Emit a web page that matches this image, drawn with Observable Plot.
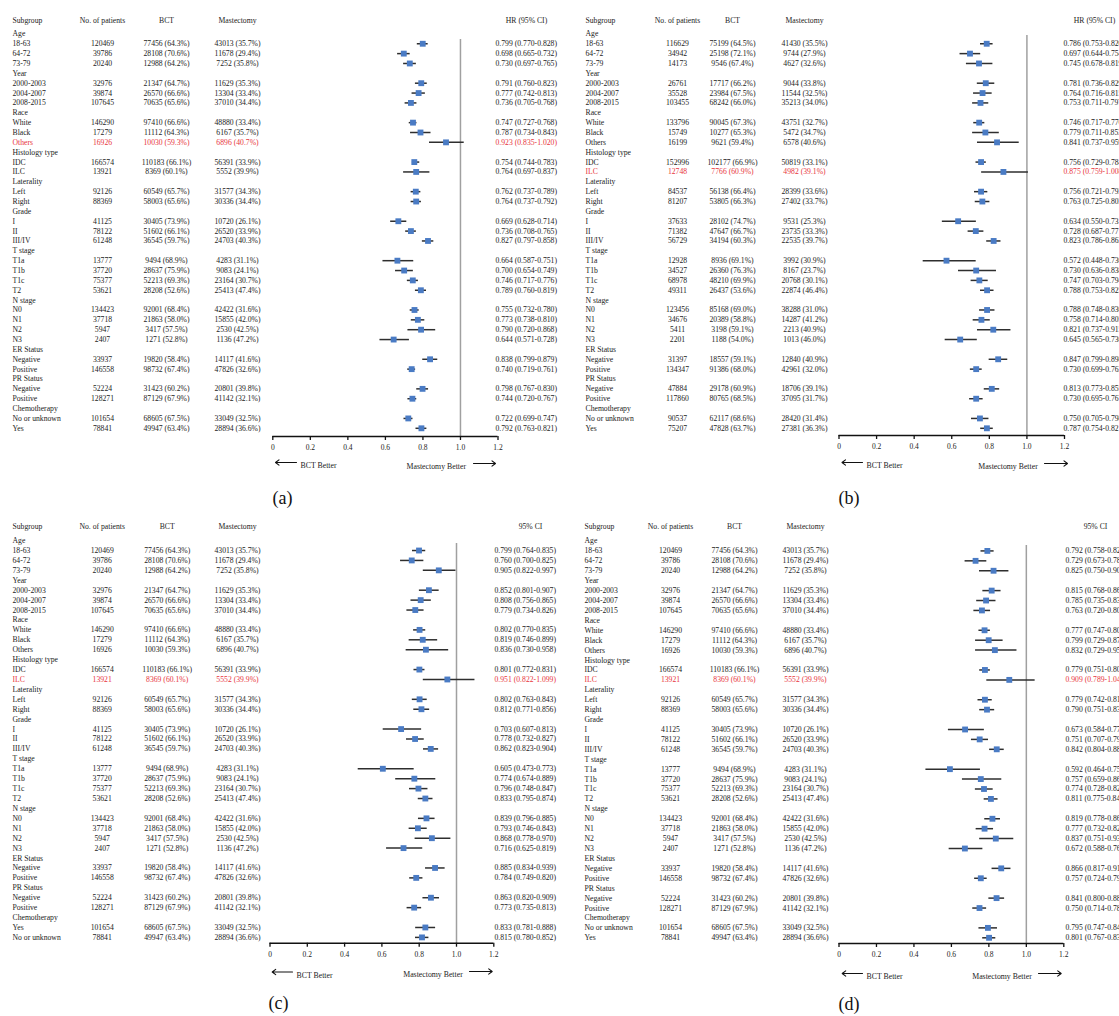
<!DOCTYPE html>
<html><head><meta charset="utf-8">
<script src="https://cdn.jsdelivr.net/npm/d3@7"></script>
<script src="https://cdn.jsdelivr.net/npm/@observablehq/plot@0.6"></script>
<style>
html,body{margin:0;padding:0;background:#fff;overflow:hidden;}
#fig{position:relative;width:1119px;height:1016px;background:#fff;overflow:hidden;}
#fig > svg{position:absolute;}
</style></head><body><div id="fig"></div>
<script>
// ---------- data ----------
const groupNames = ["Age","Year","Race","Histology type","Laterality","Grade","T stage","N stage","ER Status","PR Status","Chemotherapy"];
const groupSizes = [3,3,3,2,2,3,4,4,2,2,2];
const subgroups = ["18-63","64-72","73-79","2000-2003","2004-2007","2008-2015","White","Black","Others","IDC","ILC","Left","Right","I","II","III/IV","T1a","T1b","T1c","T2","N0","N1","N2","N3","Negative","Positive","Negative","Positive","No or unknown","Yes"];
const subgroupsC = ["18-63","64-72","73-79","2000-2003","2004-2007","2008-2015","White","Black","Others","IDC","ILC","Left","Right","I","II","III/IV","T1a","T1b","T1c","T2","N0","N1","N2","N3","Negative","Positive","Negative","Positive","Yes","No or unknown"];

// cohort used in panels (a), (c), (d)
const patients1 = [120469,39786,20240,32976,39874,107645,146290,17279,16926,166574,13921,92126,88369,41125,78122,61248,13777,37720,75377,53621,134423,37718,5947,2407,33937,146558,52224,128271,101654,78841];
const bctN1 = [77456,28108,12988,21347,26570,70635,97410,11112,10030,110183,8369,60549,58003,30405,51602,36545,9494,28637,52213,28208,92001,21863,3417,1271,19820,98732,31423,87129,68605,49947];
const bctPct1 = [64.3,70.6,64.2,64.7,66.6,65.6,66.6,64.3,59.3,66.1,60.1,65.7,65.6,73.9,66.1,59.7,68.9,75.9,69.3,52.6,68.4,58.0,57.5,52.8,58.4,67.4,60.2,67.9,67.5,63.4];
const mastN1 = [43013,11678,7252,11629,13304,37010,48880,6167,6896,56391,5552,31577,30336,10720,26520,24703,4283,9083,23164,25413,42422,15855,2530,1136,14117,47826,20801,41142,33049,28894];
const mastPct1 = [35.7,29.4,35.8,35.3,33.4,34.4,33.4,35.7,40.7,33.9,39.9,34.3,34.4,26.1,33.9,40.3,31.1,24.1,30.7,47.4,31.6,42.0,42.5,47.2,41.6,32.6,39.8,32.1,32.5,36.6];

// cohort used in panel (b)
const patients2 = [116629,34942,14173,26761,35528,103455,133796,15749,16199,152996,12748,84537,81207,37633,71382,56729,12928,34527,68978,49311,123456,34676,5411,2201,31397,134347,47884,117860,90537,75207];
const bctN2 = [75199,25198,9546,17717,23984,68242,90045,10277,9621,102177,7766,56138,53805,28102,47647,34194,8936,26360,48210,26437,85168,20389,3198,1188,18557,91386,29178,80765,62117,47828];
const bctPct2 = [64.5,72.1,67.4,66.2,67.5,66.0,67.3,65.3,59.4,66.9,60.9,66.4,66.3,74.7,66.7,60.3,69.1,76.3,69.9,53.6,69.0,58.8,59.1,54.0,59.1,68.0,60.9,68.5,68.6,63.7];
const mastN2 = [41430,9744,4627,9044,11544,35213,43751,5472,6578,50819,4982,28399,27402,9531,23735,22535,3992,8167,20768,22874,38288,14287,2213,1013,12840,42961,18706,37095,28420,27381];
const mastPct2 = [35.5,27.9,32.6,33.8,32.5,34.0,32.7,34.7,40.6,33.1,39.1,33.6,33.7,25.3,33.3,39.7,30.9,23.7,30.1,46.4,31.0,41.2,40.9,46.0,40.9,32.0,39.1,31.7,31.4,36.3];

// hazard ratios and 95% CI
const hrA = [0.799,0.698,0.730,0.791,0.777,0.736,0.747,0.787,0.923,0.754,0.764,0.762,0.764,0.669,0.736,0.827,0.664,0.700,0.746,0.789,0.755,0.773,0.790,0.644,0.838,0.740,0.798,0.744,0.722,0.792];
const loA = [0.770,0.665,0.697,0.760,0.742,0.705,0.727,0.734,0.835,0.744,0.697,0.737,0.737,0.628,0.708,0.797,0.587,0.654,0.717,0.760,0.732,0.738,0.720,0.571,0.799,0.719,0.767,0.720,0.699,0.763];
const hiA = [0.828,0.732,0.765,0.823,0.813,0.768,0.768,0.843,1.020,0.783,0.837,0.789,0.792,0.714,0.765,0.858,0.751,0.749,0.776,0.819,0.780,0.810,0.868,0.728,0.879,0.761,0.830,0.767,0.747,0.821];

const hrB = [0.786,0.697,0.745,0.781,0.764,0.753,0.746,0.779,0.841,0.756,0.875,0.756,0.763,0.634,0.728,0.823,0.572,0.730,0.747,0.788,0.788,0.758,0.821,0.645,0.847,0.730,0.813,0.730,0.750,0.787];
const loB = [0.753,0.644,0.678,0.736,0.716,0.711,0.717,0.711,0.737,0.729,0.759,0.721,0.725,0.550,0.687,0.786,0.448,0.636,0.703,0.753,0.748,0.714,0.737,0.565,0.799,0.699,0.773,0.695,0.705,0.754];
const hiB = [0.820,0.754,0.819,0.829,0.815,0.797,0.776,0.853,0.959,0.784,1.008,0.792,0.803,0.731,0.771,0.862,0.730,0.838,0.794,0.825,0.830,0.805,0.915,0.736,0.898,0.762,0.855,0.767,0.798,0.821];

const hrC = [0.799,0.760,0.905,0.852,0.808,0.779,0.802,0.819,0.836,0.801,0.951,0.802,0.812,0.703,0.778,0.862,0.605,0.774,0.796,0.833,0.839,0.793,0.868,0.716,0.885,0.784,0.863,0.773,0.833,0.815];
const loC = [0.764,0.700,0.822,0.801,0.756,0.734,0.770,0.746,0.730,0.772,0.822,0.763,0.771,0.607,0.732,0.823,0.473,0.674,0.748,0.795,0.796,0.746,0.778,0.625,0.834,0.749,0.820,0.735,0.781,0.780];
const hiC = [0.835,0.825,0.997,0.907,0.865,0.826,0.835,0.899,0.958,0.831,1.099,0.843,0.856,0.813,0.827,0.904,0.773,0.889,0.847,0.874,0.885,0.843,0.970,0.819,0.939,0.820,0.909,0.813,0.888,0.852];

const hrD = [0.792,0.729,0.825,0.815,0.785,0.763,0.777,0.799,0.832,0.779,0.909,0.779,0.790,0.673,0.751,0.842,0.592,0.757,0.774,0.811,0.819,0.777,0.837,0.672,0.866,0.757,0.841,0.750,0.795,0.801];
const loD = [0.758,0.673,0.750,0.768,0.735,0.720,0.747,0.729,0.729,0.751,0.789,0.742,0.751,0.584,0.707,0.804,0.464,0.659,0.728,0.775,0.778,0.732,0.751,0.588,0.817,0.724,0.800,0.714,0.747,0.767];
const hiD = [0.828,0.789,0.907,0.865,0.838,0.809,0.808,0.876,0.950,0.808,1.047,0.818,0.831,0.776,0.798,0.882,0.755,0.869,0.823,0.849,0.862,0.825,0.933,0.768,0.918,0.791,0.884,0.788,0.846,0.837];

const xTicks = [0,0.2,0.4,0.6,0.8,1.0,1.2];
const colHeaders = ["Subgroup","No. of patients","BCT","Mastectomy"];

// ---------- style ----------
const FONT = "'Liberation Serif','DejaVu Serif',serif";
const INK = "#222";
const RED = "#e8343c";
const BLUE = "#4a7bc4";

function buildRows(labels, patients, bctN, bctPct, mastN, mastPct, hr, lo, hi, redGroup, redLabel) {
  const rows = []; let i = 0, k = 0;
  groupNames.forEach((g, gi) => {
    rows.push({i: i++, label: g, header: true, red: false});
    for (let s = 0; s < groupSizes[gi]; s++, k++) {
      rows.push({
        i: i++, label: labels[k], header: false,
        n: String(patients[k]),
        bct: `${bctN[k]} (${bctPct[k].toFixed(1)}%)`,
        mast: `${mastN[k]} (${mastPct[k].toFixed(1)}%)`,
        hr: hr[k], lo: lo[k], hi: hi[k],
        hrText: `${hr[k].toFixed(3)} (${lo[k].toFixed(3)}-${hi[k].toFixed(3)})`,
        red: g === redGroup && labels[k] === redLabel
      });
    }
  });
  return rows;
}

function panel(cfg, rows) {
  const yIdx = py => (py - cfg.rowTop) / cfg.step;
  const xVal = px => (px - cfg.xr[0]) * 1.2 / (cfg.xr[1] - cfg.xr[0]);
  const sub = rows.filter(d => !d.header);
  const fill = d => d.red ? RED : INK;
  const T = {fontSize: 7.7, frameAnchor: "left", y: "i", fill};
  const head = (txt, x, anchor) => Plot.text([txt], {text: d => d, frameAnchor: "top-left", dx: x, dy: cfg.headY, textAnchor: anchor, fontSize: 7.7, fill: INK});
  const c = cfg.cols;
  const svg = Plot.plot({
    width: cfg.w, height: cfg.h,
    marginLeft: 0, marginRight: 0, marginTop: 0, marginBottom: cfg.h - cfg.axisY,
    x: {domain: [0, 1.2], range: cfg.xr},
    y: {domain: [0, 40], range: [cfg.rowTop, cfg.rowTop + 40 * cfg.step], axis: null},
    style: {fontFamily: FONT, background: "transparent", color: INK},
    marks: [
      head(colHeaders[0], c.label, "start"),
      head(colHeaders[1], c.n, "middle"),
      head(colHeaders[2], c.bct, "middle"),
      head(colHeaders[3], c.mast, "middle"),
      head(cfg.hrHeader, c.hrHead, "middle"),
      Plot.text(rows, {...T, dx: c.label, text: "label", textAnchor: "start"}),
      Plot.text(sub, {...T, dx: c.n, text: "n", textAnchor: "middle"}),
      Plot.text(sub, {...T, dx: c.bct, text: "bct", textAnchor: "middle"}),
      Plot.text(sub, {...T, dx: c.mast, text: "mast", textAnchor: "middle"}),
      Plot.text(sub, {...T, dx: c.hr, text: "hrText", textAnchor: "start"}),
      Plot.ruleX([1], {y1: yIdx(cfg.refTop), y2: yIdx(cfg.axisY), stroke: "#a0a0a0", strokeWidth: 1.5}),
      Plot.ruleY(sub, {y: "i", x1: "lo", x2: "hi", stroke: "#2e2e2e", strokeWidth: 1.5}),
      Plot.dot(sub, {x: "hr", y: "i", symbol: "square", r: 3.3, fill: BLUE}),
      Plot.ruleY([yIdx(cfg.axisY)], {x1: 0, x2: 1.2, stroke: "#111", strokeWidth: 1.5}),
      Plot.axisX({ticks: xTicks, tickFormat: d => d === 0 ? "0" : d.toFixed(1), tickSize: 4, tickPadding: 4.5,
                  fontSize: 7.5, label: null, stroke: "#111", strokeWidth: 1.3, fill: INK}),
      Plot.arrow([0], {x1: xVal(cfg.bctArrow[1]), x2: xVal(cfg.bctArrow[0]), y1: yIdx(cfg.bctArrow[2]), y2: yIdx(cfg.bctArrow[2]),
                       stroke: "#111", strokeWidth: 1.1, headLength: 6, headAngle: 75}),
      Plot.arrow([0], {x1: xVal(cfg.mastArrow[0]), x2: xVal(cfg.mastArrow[1]), y1: yIdx(cfg.mastArrow[2]), y2: yIdx(cfg.mastArrow[2]),
                       stroke: "#111", strokeWidth: 1.1, headLength: 6, headAngle: 75}),
      Plot.text(["BCT Better"], {text: d => d, frameAnchor: "top-left", dx: cfg.bctText[0], dy: cfg.bctText[1], textAnchor: "start", fontSize: 7.8, fill: INK}),
      Plot.text(["Mastectomy Better"], {text: d => d, frameAnchor: "top-left", dx: cfg.mastText[0], dy: cfg.mastText[1], textAnchor: "start", fontSize: 7.8, fill: INK}),
      Plot.text([cfg.tag], {text: d => d, frameAnchor: "top-left", dx: cfg.tagPos[0], dy: cfg.tagPos[1], textAnchor: "start", fontSize: 18, fill: "#111"})
    ]
  });
  svg.style.left = cfg.left + "px";
  svg.style.top = cfg.top + "px";
  svg.style.overflow = "visible";
  return svg;
}

const rowsA = buildRows(subgroups, patients1, bctN1, bctPct1, mastN1, mastPct1, hrA, loA, hiA, "Race", "Others");
const rowsB = buildRows(subgroups, patients2, bctN2, bctPct2, mastN2, mastPct2, hrB, loB, hiB, "Histology type", "ILC");
const rowsC = buildRows(subgroupsC, patients1, bctN1, bctPct1, mastN1, mastPct1, hrC, loC, hiC, "Histology type", "ILC");
const rowsD = buildRows(subgroups, patients1, bctN1, bctPct1, mastN1, mastPct1, hrD, loD, hiD, "Histology type", "ILC");

const fig = document.getElementById("fig");
fig.appendChild(panel({left: 0, top: 0, w: 560, h: 508, xr: [272.3, 497.5], rowTop: 33.4, step: 9.86, headY: 17.3, axisY: 436, refTop: 39,
  cols: {label: 12, n: 102, bct: 166, mast: 237, hr: 495, hrHead: 526}, hrHeader: "HR (95% CI)",
  bctArrow: [275, 296, 462], bctText: [300, 462], mastText: [406, 463], mastArrow: [473, 495, 463], tag: "(a)", tagPos: [272, 491]}, rowsA));
fig.appendChild(panel({left: 560, top: 0, w: 559, h: 508, xr: [278.5, 504], rowTop: 33.4, step: 9.86, headY: 17.3, axisY: 435, refTop: 35,
  cols: {label: 25, n: 117, bct: 172, mast: 244, hr: 503, hrHead: 534}, hrHeader: "HR (95% CI)",
  bctArrow: [281.5, 302, 462], bctText: [306, 462], mastText: [417.7, 463], mastArrow: [484, 507, 463], tag: "(b)", tagPos: [278, 491]}, rowsB));
fig.appendChild(panel({left: 0, top: 500, w: 560, h: 516, xr: [269.5, 493.3], rowTop: 40.1, step: 9.92, headY: 23, axisY: 442.7, refTop: 43,
  cols: {label: 12, n: 101.7, bct: 166.7, mast: 237, hr: 494, hrHead: 530}, hrHeader: "95% CI",
  bctArrow: [271.7, 292, 471.5], bctText: [296, 471.5], mastText: [402.7, 471], mastArrow: [469, 491.7, 471], tag: "(c)", tagPos: [268, 496]}, rowsC));
fig.appendChild(panel({left: 560, top: 500, w: 559, h: 516, xr: [278.5, 503.3], rowTop: 40.5, step: 9.92, headY: 23, axisY: 443, refTop: 45,
  cols: {label: 24, n: 110, bct: 174, mast: 245, hr: 505, hrHead: 535}, hrHeader: "95% CI",
  bctArrow: [281.7, 302, 473], bctText: [306, 473], mastText: [411.7, 473], mastArrow: [478, 500.7, 473], tag: "(d)", tagPos: [278, 497]}, rowsD));
</script></body></html>
